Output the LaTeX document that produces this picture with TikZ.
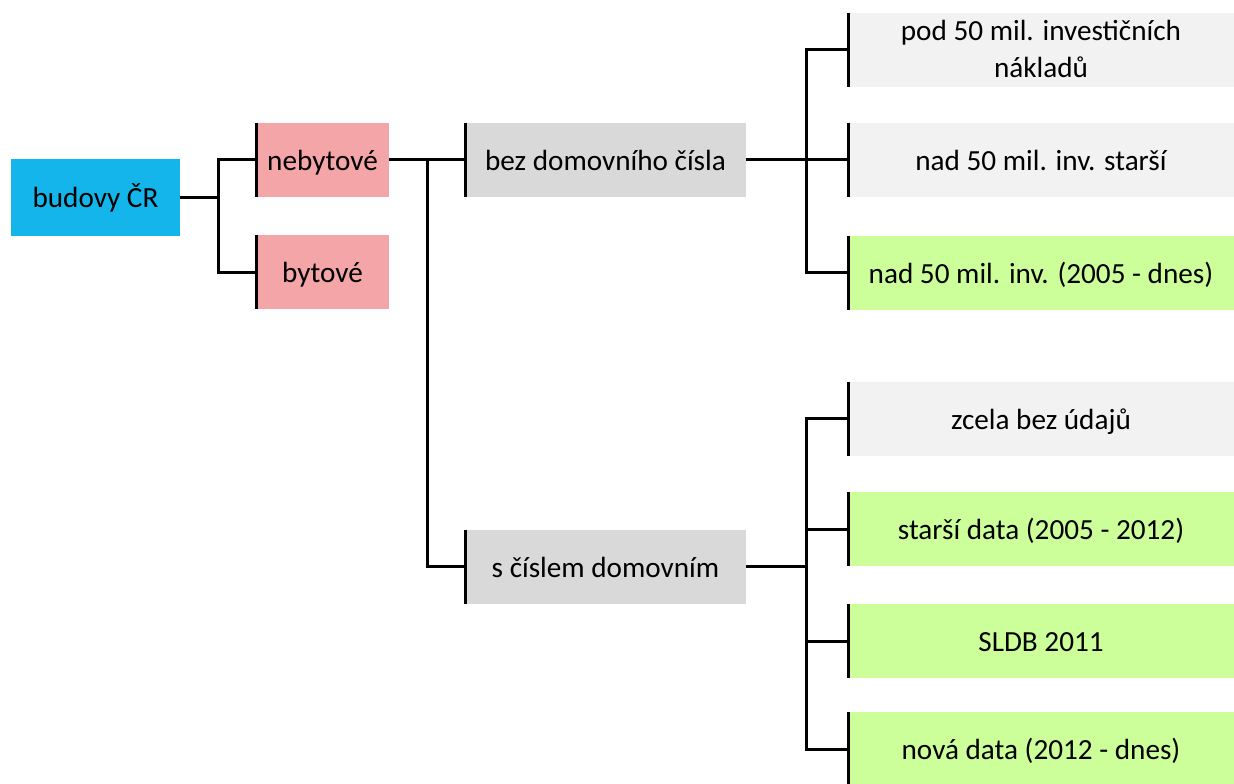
\documentclass[tikz,border=0pt]{standalone}
\usepackage{fontspec}
\setmainfont{Carlito}
\definecolor{modra}{HTML}{13B5EA}
\definecolor{ruzova}{HTML}{F4A5A7}
\definecolor{seda}{HTML}{D9D9D9}
\definecolor{svetla}{HTML}{F2F2F2}
\definecolor{zelena}{HTML}{CCFF99}

\begin{document}
\begin{tikzpicture}[x=0.5pt,y=-0.5pt,
    box/.style={fill=#1, minimum height=37pt, inner sep=0pt, outer sep=0pt,
        text height=11.5pt, text depth=1pt,
        align=center, font=\fontsize{14.6}{18.5}\selectfont},
    link/.style={line width=1.5pt, black},
    bar/.style={append after command={(\tikzlastnode.north west) edge[link] (\tikzlastnode.south west)}}]

\useasboundingbox (0,0) rectangle (1234,783);

% levy sloupec
\node[box=modra, minimum width=84.5pt, minimum height=38.5pt] (budovy) at (95.5,197) {budovy ČR};
\node[box=ruzova, bar, minimum width=66.5pt] (nebytove) at (322.5,159.5) {nebytové};
\node[box=ruzova, bar, minimum width=66.5pt] (bytove) at (322.5,272) {bytové};

% domovni cislo
\node[box=seda, bar, minimum width=140.5pt] (bez) at (605.5,159.5) {bez domovního čísla};
\node[box=seda, bar, minimum width=140.5pt] (scislem) at (605.5,566.5) {s číslem domovním};

% zdroje dat
\node[box=svetla, bar, minimum width=193pt, text height=28.5pt] (pod) at (1041,49.5) {pod 50 mil. investičních\\nákladů};
\foreach \jm/\y/\barva/\popis in {
    starsi/159.5/svetla/{nad 50 mil. inv. starší},
    nad/272.5/zelena/{nad 50 mil. inv. (2005 - dnes)},
    zcela/418.5/svetla/{zcela bez údajů},
    data/529/zelena/{starší data (2005 - 2012)},
    sldb/641/zelena/{SLDB 2011},
    nova/749/zelena/{nová data (2012 - dnes)}}
{   \node[box=\barva, bar, minimum width=193pt] (\jm) at (1041,\y) {\popis};
}

% rozvetveni
\coordinate (r1) at (218,0);
\coordinate (r2) at (427,0);
\coordinate (r3) at (806,0);

\draw[link] (budovy) -- (budovy -| r1);
\draw[link] (nebytove.west) -| (r1 |- bytove) -- (bytove.west);

\draw[link] (nebytove) -- (bez.west);
\draw[link] (r2 |- nebytove) |- (scislem.west);

\draw[link] (bez) -- (starsi.west);
\draw[link] (pod.west) -| (r3 |- nad) -- (nad.west);

\draw[link] (scislem) -- (scislem -| r3);
\draw[link] (zcela.west) -| (r3 |- nova) -- (nova.west);
\foreach \jm in {data,sldb}
{   \draw[link] (\jm.west) -- (\jm.west -| r3);
}
\end{tikzpicture}
\end{document}
